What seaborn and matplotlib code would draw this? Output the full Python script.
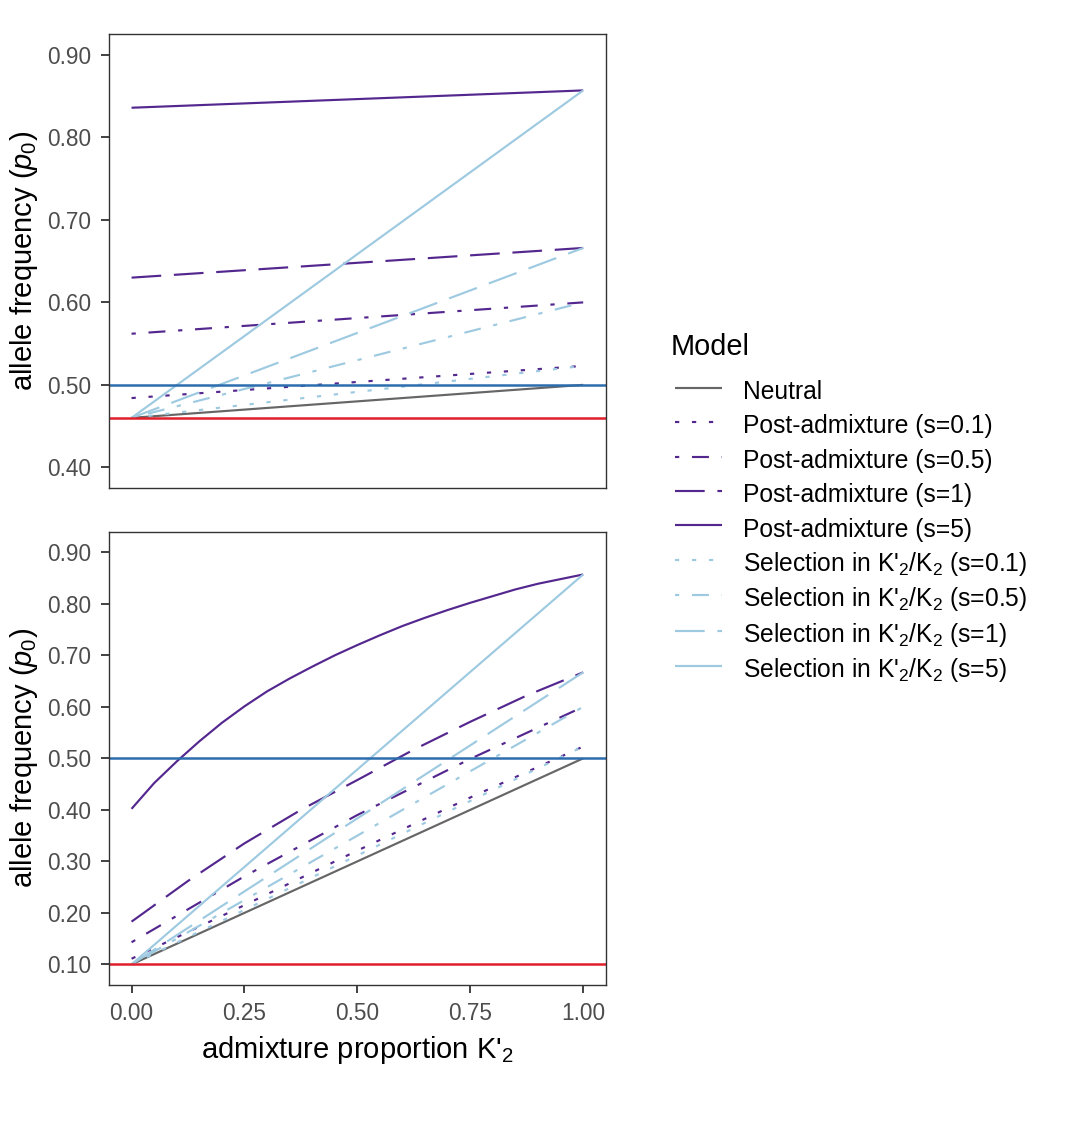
import matplotlib
matplotlib.use("Agg")
import matplotlib.pyplot as plt
import pandas as pd
import seaborn as sns

# admixture proportion grids the values were read at
k_ends = [0.0, 1.0]
k_coarse = [0.0, 0.25, 0.5, 0.75, 1.0]
k_mid = [0.0, 0.125, 0.25, 0.375, 0.5, 0.625, 0.75, 0.875, 1.0]
k_fine = [0.0, 0.05, 0.1, 0.15, 0.2, 0.25, 0.3, 0.35, 0.4, 0.45, 0.5,
          0.55, 0.6, 0.65, 0.7, 0.75, 0.8, 0.85, 0.9, 0.95, 1.0]

models = [
    "Neutral",
    "Post-admixture (s=0.1)",
    "Post-admixture (s=0.5)",
    "Post-admixture (s=1)",
    "Post-admixture (s=5)",
    "Selection in K'$_2$/K$_2$ (s=0.1)",
    "Selection in K'$_2$/K$_2$ (s=0.5)",
    "Selection in K'$_2$/K$_2$ (s=1)",
    "Selection in K'$_2$/K$_2$ (s=5)",
]

# top panel (p0 = 0.46)
top_p0 = 0.46
top_neutral = [0.460, 0.500]
top_post_01 = [0.484, 0.523]
top_post_05 = [0.562, 0.600]
top_post_1 = [0.630, 0.666]
top_post_5 = [0.836, 0.857]
top_sel_01 = [0.460, 0.523]
top_sel_05 = [0.460, 0.600]
top_sel_1 = [0.460, 0.666]
top_sel_5 = [0.460, 0.857]

# bottom panel (p0 = 0.10)
bot_p0 = 0.10
bot_neutral = [0.100, 0.500]
bot_post_01 = [0.111, 0.215, 0.321, 0.424, 0.523]
bot_post_05 = [0.143, 0.271, 0.390, 0.499, 0.600]
bot_post_1 = [0.183, 0.262, 0.335, 0.400, 0.458, 0.517, 0.571, 0.622, 0.667]
bot_post_5 = [0.402, 0.452, 0.494, 0.533, 0.569, 0.601, 0.630, 0.655, 0.678, 0.700, 0.720,
              0.739, 0.757, 0.773, 0.788, 0.802, 0.815, 0.828, 0.839, 0.848, 0.857]
bot_sel_01 = [0.100, 0.523]
bot_sel_05 = [0.100, 0.600]
bot_sel_1 = [0.100, 0.667]
bot_sel_5 = [0.100, 0.857]

neutral_reference = 0.50

purple = "#54278F"
light_blue = "#9ECAE1"
palette = dict(zip(models, ["#666666"] + [purple] * 4 + [light_blue] * 4))
u = 1.97
dash_styles = [(1, 0), (u, 3 * u), (u, 3 * u, 4 * u, 3 * u), (7 * u, 3 * u), (1, 0)]
dashes = dict(zip(models, [dash_styles[0]] + dash_styles[1:] + dash_styles[1:]))


def build_frame(series):
    rows = []
    for name, (xs, ys) in zip(models, series):
        for x, y in zip(xs, ys):
            rows.append({"K": x, "p": y, "Model": name})
    return pd.DataFrame(rows)


df_top = build_frame([
    (k_ends, top_neutral), (k_ends, top_post_01), (k_ends, top_post_05),
    (k_ends, top_post_1), (k_ends, top_post_5), (k_ends, top_sel_01),
    (k_ends, top_sel_05), (k_ends, top_sel_1), (k_ends, top_sel_5),
])
df_bot = build_frame([
    (k_ends, bot_neutral), (k_coarse, bot_post_01), (k_coarse, bot_post_05),
    (k_mid, bot_post_1), (k_fine, bot_post_5), (k_ends, bot_sel_01),
    (k_ends, bot_sel_05), (k_ends, bot_sel_1), (k_ends, bot_sel_5),
])

sns.set_style("white")
plt.rcParams["font.family"] = ["Liberation Sans", "DejaVu Sans"]
plt.rcParams["mathtext.fontset"] = "custom"
plt.rcParams["mathtext.rm"] = "Liberation Sans"
plt.rcParams["mathtext.it"] = "Liberation Sans:italic"
plt.rcParams["mathtext.bf"] = "Liberation Sans:bold"
plt.rcParams["text.color"] = "black"
plt.rcParams["axes.labelcolor"] = "black"

fig = plt.figure(figsize=(10.79, 11.22), dpi=100)
ax1 = fig.add_axes([0.1010, 0.5651, 0.4604, 0.4043])
ax2 = fig.add_axes([0.1010, 0.1221, 0.4604, 0.4040])

for ax, df, p0, lims, ticks in [
    (ax1, df_top, top_p0, (0.375, 0.925), [0.4, 0.5, 0.6, 0.7, 0.8, 0.9]),
    (ax2, df_bot, bot_p0, (0.06, 0.94), [0.1, 0.2, 0.3, 0.4, 0.5, 0.6, 0.7, 0.8, 0.9]),
]:
    sns.lineplot(data=df, x="K", y="p", hue="Model", style="Model",
                 hue_order=models, style_order=models,
                 palette=palette, dashes=dashes, estimator=None,
                 linewidth=1.55, ax=ax, legend=(ax is ax2))
    ax.axhline(neutral_reference, color="#2C6DAE", linewidth=1.8)
    ax.axhline(p0, color="#E01F2B", linewidth=1.8)
    ax.set_xlim(-0.05, 1.05)
    ax.set_ylim(*lims)
    ax.set_yticks(ticks)
    ax.set_yticklabels([f"{t:.2f}" for t in ticks])
    ax.set_ylabel("allele frequency ($p_0$)", fontsize=21)
    ax.yaxis.set_label_coords(-0.139, 0.5)
    ax.tick_params(axis="both", labelsize=16.3, labelcolor="#4D4D4D", color="#333333",
                   length=5.5, width=1.3, pad=7, direction="out", left=True, bottom=True)
    for sp in ax.spines.values():
        sp.set_color("#333333")
        sp.set_linewidth(1.0)

ax1.set_xlabel("")
ax1.tick_params(axis="x", bottom=False, labelbottom=False)
ax2.set_xticks([0.0, 0.25, 0.5, 0.75, 1.0])
ax2.set_xticklabels(["0.00", "0.25", "0.50", "0.75", "1.00"])
ax2.set_xlabel("admixture proportion K'$_2$", fontsize=21, labelpad=6)

handles, labels = ax2.get_legend_handles_labels()
ax2.get_legend().remove()
for h in handles:
    h.set_linewidth(1.55)
fig.text(0.6219, 1 - 355 / 1122, "Model", fontsize=20.8, ha="left", va="baseline")
fig.legend(handles, labels, loc="upper left", bbox_to_anchor=(0.6256, 0.6645),
           frameon=False, fontsize=17.7, handlelength=1.91, handletextpad=0.85,
           handleheight=1.41, labelspacing=0.24, borderpad=0, borderaxespad=0)

fig.savefig("out.png", dpi=100)
